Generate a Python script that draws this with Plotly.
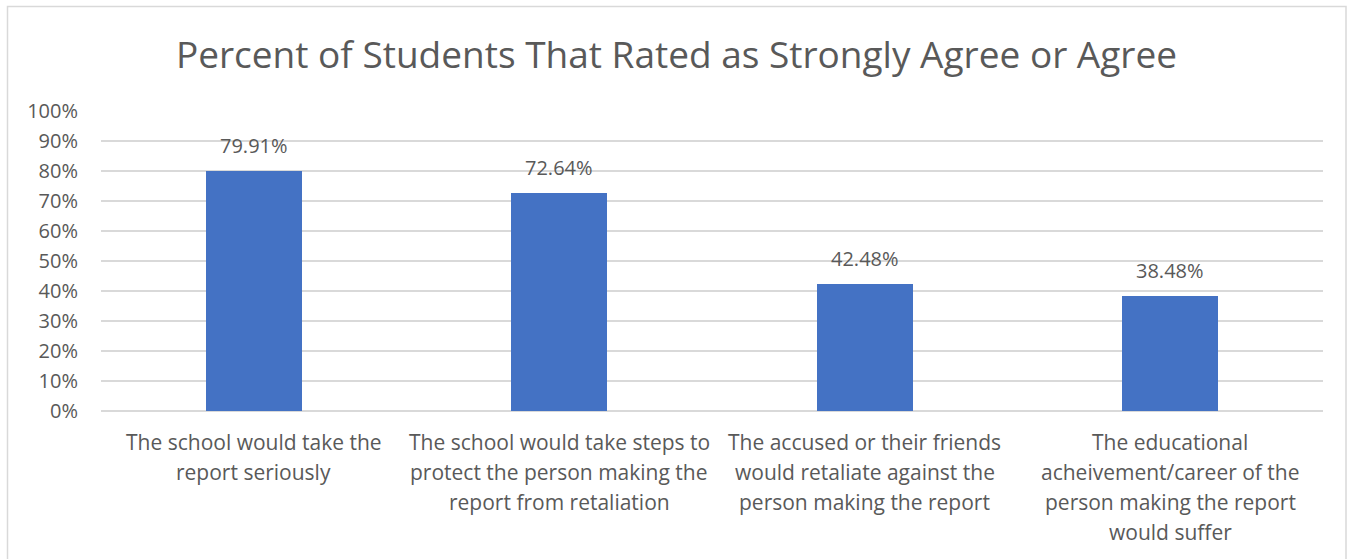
import plotly.graph_objects as go

# Survey results: share of students answering "Strongly Agree" or "Agree"
categories = [
    "The school would take the<br>report seriously",
    "The school would take steps to<br>protect the person making the<br>report from retaliation",
    "The accused or their friends<br>would retaliate against the<br>person making the report",
    "The educational<br>acheivement/career of the<br>person making the report<br>would suffer",
]
values = [0.7991, 0.7264, 0.4248, 0.3848]
y_ticks = [0, 0.1, 0.2, 0.3, 0.4, 0.5, 0.6, 0.7, 0.8, 0.9, 1.0]
y_tick_labels = ["0%", "10%", "20%", "30%", "40%", "50%", "60%", "70%", "80%", "90%", "100%"]

FONT = "Open Sans"
TEXT = "#595959"
BAR = "#4472C4"
GRID = "#D9D9D9"

W, H = 1353, 559
ML, MR, MT, MB = 101, 30, 111, 148
pw, ph = W - ML - MR, H - MT - MB

fig = go.Figure()
fig.add_trace(go.Bar(
    x=list(range(len(categories))),
    y=values,
    marker=dict(color=BAR, line=dict(width=0)),
    width=0.314,
    hoverinfo="skip",
))

annotations = []
# value labels above each bar
for i, v in enumerate(values):
    annotations.append(dict(
        x=i, y=v, xref="x", yref="y", text=f"{v*100:.2f}%",
        showarrow=False, yanchor="bottom", yshift=10,
        font=dict(family=FONT, size=20, color=TEXT),
    ))
# category labels, one annotation per line for Office-style spacing
for i, cat in enumerate(categories):
    for j, line in enumerate(cat.split("<br>")):
        annotations.append(dict(
            x=i, y=0, xref="x", yref="y", text=line,
            showarrow=False, yanchor="middle", yshift=-31 - 30 * j,
            font=dict(family=FONT, size=21, color=TEXT),
        ))

# outer chart border
shapes = [dict(
    type="rect", xref="paper", yref="paper",
    x0=(7.5 - ML) / pw, x1=(1346 - ML) / pw,
    y0=(H - 570 - MB) / ph, y1=(H - 6.5 - MB) / ph,
    line=dict(color=GRID, width=1.5), layer="below",
)]

fig.update_layout(
    width=W, height=H,
    margin=dict(l=ML, r=MR, t=MT, b=MB),
    paper_bgcolor="white", plot_bgcolor="white",
    title=dict(
        text="Percent of Students That Rated as Strongly Agree or Agree",
        x=0.5, xanchor="center", y=1 - 55 / H, yanchor="middle",
        font=dict(family=FONT, size=37, color=TEXT),
    ),
    xaxis=dict(
        range=[-0.5, len(categories) - 0.5],
        showticklabels=False, showgrid=False, zeroline=False,
        ticks="", fixedrange=True,
    ),
    yaxis=dict(
        range=[0, 1.0], tickvals=y_ticks, ticktext=y_tick_labels,
        showgrid=True, gridcolor=GRID, gridwidth=1.5,
        zeroline=True, zerolinecolor=GRID, zerolinewidth=1.5,
        tickfont=dict(family=FONT, size=20, color=TEXT),
        ticks="", ticklabelstandoff=22, fixedrange=True,
    ),
    annotations=annotations,
    shapes=shapes,
    showlegend=False,
    bargap=0,
)

fig.write_html("out.html")
